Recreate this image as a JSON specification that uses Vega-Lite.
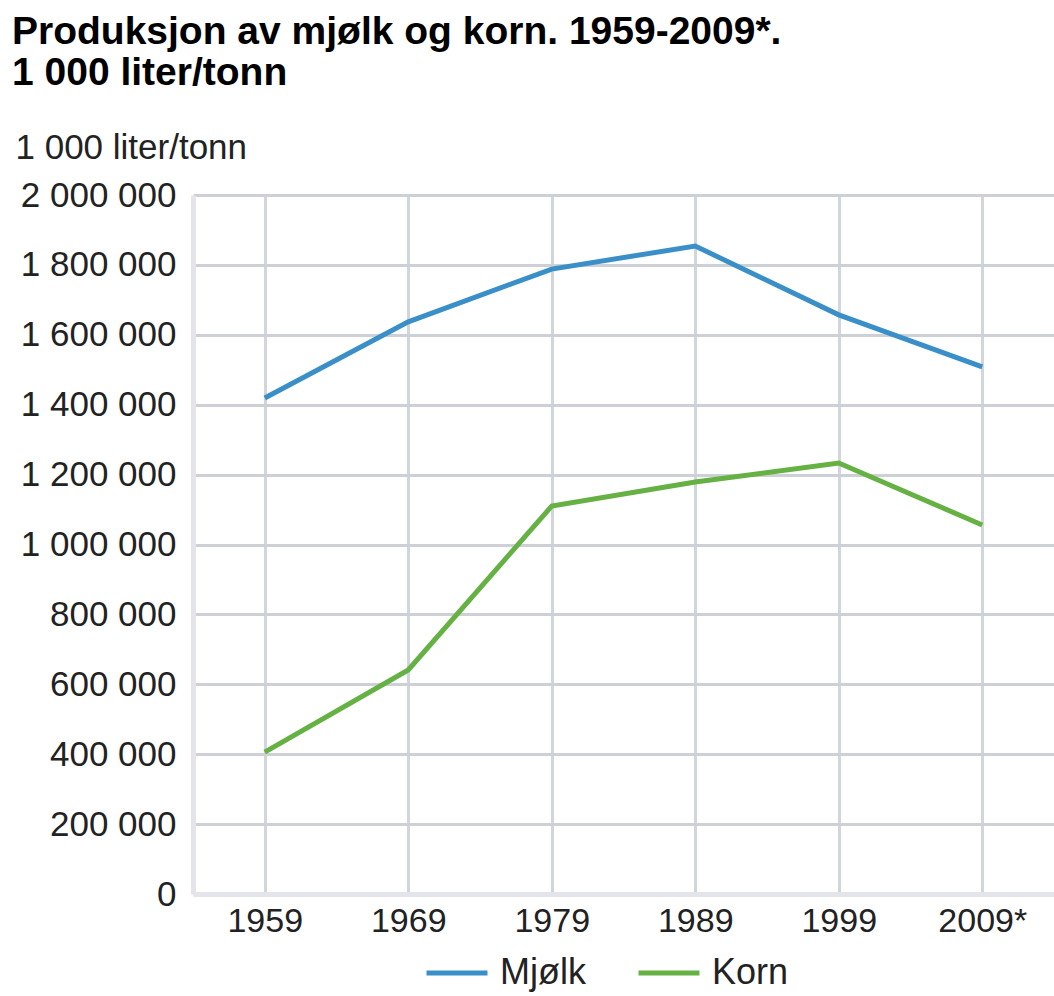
{
  "$schema": "https://vega.github.io/schema/vega-lite/v6.json",
  "autosize": {"type": "none"},
  "width": 861,
  "height": 699,
  "padding": {"left": 193, "top": 195, "right": 0, "bottom": 102},
  "background": "white",
  "title": {
    "text": ["Produksjon av mjølk og korn. 1959-2009*.", "1 000 liter/tonn"],
    "anchor": "start",
    "frame": "group",
    "dx": -181,
    "dy": -33,
    "font": "Liberation Sans",
    "fontSize": 39,
    "fontWeight": "bold",
    "color": "#000000",
    "lineHeight": 41
  },
  "config": {
    "locale": {"number": {"decimal": ",", "thousands": " ", "grouping": [3], "currency": ["", " kr"]}},
    "view": {"stroke": null},
    "font": "Liberation Sans"
  },
  "data": {
    "values": [
      {"year": "1959", "series": "Mjølk", "value": 1419000},
      {"year": "1969", "series": "Mjølk", "value": 1637000},
      {"year": "1979", "series": "Mjølk", "value": 1788000},
      {"year": "1989", "series": "Mjølk", "value": 1854000},
      {"year": "1999", "series": "Mjølk", "value": 1657000},
      {"year": "2009*", "series": "Mjølk", "value": 1508000},
      {"year": "1959", "series": "Korn", "value": 406000},
      {"year": "1969", "series": "Korn", "value": 641000},
      {"year": "1979", "series": "Korn", "value": 1110000},
      {"year": "1989", "series": "Korn", "value": 1179000},
      {"year": "1999", "series": "Korn", "value": 1233000},
      {"year": "2009*", "series": "Korn", "value": 1056000}
    ]
  },
  "mark": {"type": "line", "strokeWidth": 5, "strokeJoin": "miter"},
  "encoding": {
    "x": {
      "field": "year",
      "type": "nominal",
      "sort": ["1959", "1969", "1979", "1989", "1999", "2009*"],
      "scale": {"type": "point", "padding": 0.5},
      "axis": {
        "title": null,
        "labelAngle": 0,
        "labelFontSize": 34,
        "labelColor": "#222222",
        "labelPadding": 10,
        "ticks": false,
        "grid": true,
        "gridColor": "#d3d5dc",
        "gridWidth": 3,
        "domain": true,
        "domainColor": "#e4e5ea",
        "domainWidth": 5
      }
    },
    "y": {
      "field": "value",
      "type": "quantitative",
      "scale": {"domain": [0, 2000000], "nice": false},
      "axis": {
        "values": [0, 200000, 400000, 600000, 800000, 1000000, 1200000, 1400000, 1600000, 1800000, 2000000],
        "format": ",d",
        "title": "1 000 liter/tonn",
        "titleAngle": 0,
        "titleAlign": "left",
        "titleBaseline": "alphabetic",
        "titleX": -178,
        "titleY": -37,
        "titleFontSize": 35,
        "titleFontWeight": "normal",
        "titleColor": "#222222",
        "labelFontSize": 35,
        "labelColor": "#222222",
        "labelPadding": 17,
        "ticks": false,
        "grid": true,
        "gridColor": "#cdd0d6",
        "gridWidth": 3,
        "domain": true,
        "domainColor": "#e4e5ea",
        "domainWidth": 5
      }
    },
    "color": {
      "field": "series",
      "type": "nominal",
      "sort": ["Mjølk", "Korn"],
      "scale": {"domain": ["Mjølk", "Korn"], "range": ["#3a8fc8", "#65b143"]},
      "legend": {
        "title": null,
        "orient": "none",
        "direction": "horizontal",
        "legendX": 231,
        "legendY": 745,
        "symbolType": "stroke",
        "symbolSize": 3721,
        "symbolStrokeWidth": 5,
        "labelFontSize": 36,
        "labelColor": "#222222",
        "labelOffset": 10,
        "columnPadding": 42
      }
    }
  }
}
